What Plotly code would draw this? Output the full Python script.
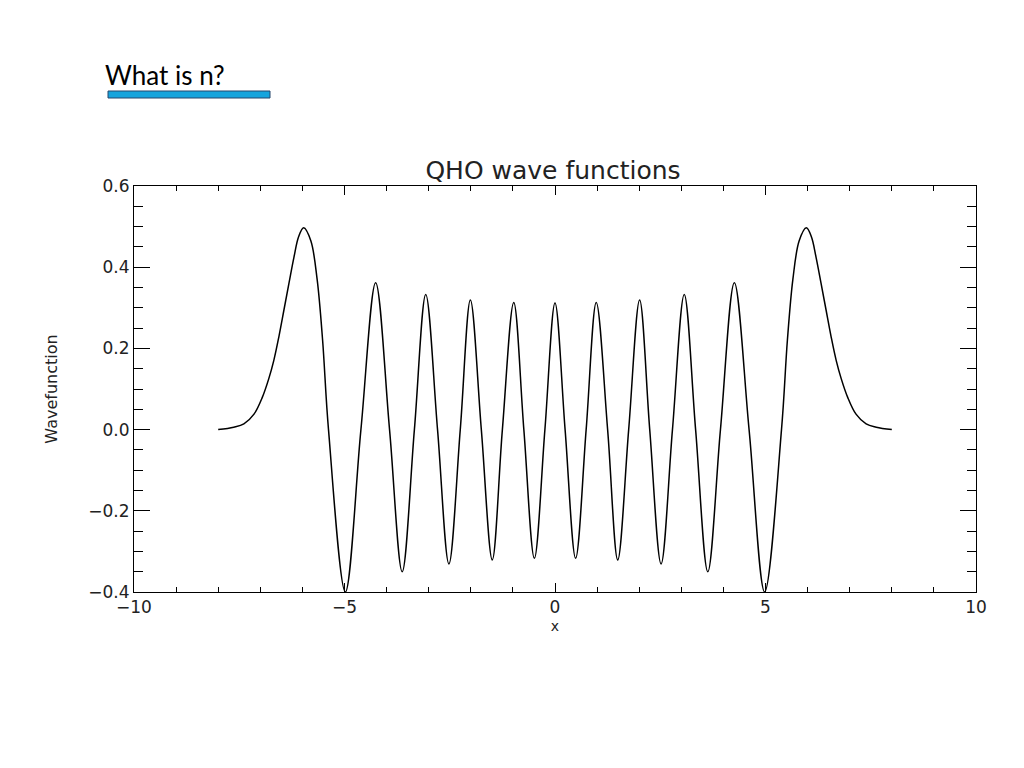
import plotly.graph_objects as go

# Curve points (tail points, extrema, zero crossings)
x_vals = [-8.0, -7.63, -7.39, -7.15, -6.95, -6.8, -6.68, -6.56, -6.44, -6.32, -6.2, -6.09, -5.97,
          -5.8, -5.65, -5.52, -5.38,
          -4.98, -4.61, -4.26, -3.93, -3.63, -3.34, -3.07, -2.79, -2.52, -2.25,
          -2.01, -1.75, -1.49, -1.25, -0.98, -0.74, -0.49, -0.24, 0.0,
          0.24, 0.49, 0.74, 0.98, 1.25, 1.49, 1.75, 2.01, 2.25, 2.52, 2.79,
          3.07, 3.34, 3.63, 3.93, 4.26, 4.61, 4.98,
          5.38, 5.52, 5.65, 5.8,
          5.97, 6.09, 6.2, 6.32, 6.44, 6.56, 6.68, 6.8, 6.95, 7.15, 7.39, 7.63, 8.0]
y_vals = [0.0, 0.006, 0.014, 0.038, 0.08, 0.125, 0.17, 0.228, 0.294, 0.36, 0.425, 0.475, 0.497,
          0.465, 0.37, 0.22, 0.0,
          -0.40, 0.0, 0.362, 0.0, -0.350, 0.0, 0.333, 0.0, -0.331, 0.0,
          0.319, 0.0, -0.321, 0.0, 0.313, 0.0, -0.317, 0.0, 0.312,
          0.0, -0.317, 0.0, 0.313, 0.0, -0.321, 0.0, 0.319, 0.0, -0.331, 0.0,
          0.333, 0.0, -0.350, 0.0, 0.362, 0.0, -0.40,
          0.0, 0.22, 0.37, 0.465,
          0.497, 0.475, 0.425, 0.36, 0.294, 0.228, 0.17, 0.125, 0.08, 0.038, 0.014, 0.006, 0.0]

x_ticks = [-10, -5, 0, 5, 10]
y_ticks = [-0.4, -0.2, 0.0, 0.2, 0.4, 0.6]

title_text = "QHO wave functions"
x_title = "x"
y_title = "Wavefunction"
heading = "What is n?"

OFF = 8  # page body margin
W, H = 1024, 768
L = 134 - OFF
T = 186 - OFF
R = W - (976 - OFF)
B = H - (592 - OFF)
pw, ph = W - L - R, H - T - B

def px_x(p):
    return (p - OFF - L) / pw

def px_y(p):
    return (H - B - (p - OFF)) / ph

tick_font = dict(family="DejaVu Sans", size=17, color="#222")

fig = go.Figure()
fig.add_trace(go.Scatter(x=x_vals, y=y_vals, mode="lines",
                         line=dict(color="black", width=1.5, shape="spline", smoothing=1.0),
                         showlegend=False, hoverinfo="skip"))

fig.update_layout(
    width=W, height=H,
    margin=dict(l=L, r=R, t=T, b=B),
    paper_bgcolor="white", plot_bgcolor="white",
    title=dict(text=title_text, x=(553 - OFF) / W, xanchor="center", y=1 - (170 - OFF) / H,
               yanchor="middle", font=dict(family="DejaVu Sans", size=25, color="#222")),
    xaxis=dict(range=[-10, 10], tickvals=x_ticks, ticks="inside", ticklen=9, tickwidth=1,
               tickcolor="black", showline=True, linecolor="black", linewidth=1, mirror="ticks",
               showgrid=False, zeroline=False, tickfont=tick_font,
               minor=dict(dtick=1, ticks="inside", ticklen=5, tickcolor="black", showgrid=False),
               title=dict(text=x_title, font=dict(family="DejaVu Sans", size=14, color="#222"), standoff=4)),
    yaxis=dict(range=[-0.4, 0.6], tickvals=y_ticks, tickformat=".1f", ticks="inside", ticklen=16,
               tickwidth=1, tickcolor="black", showline=True, linecolor="black", linewidth=1,
               mirror="ticks", showgrid=False, zeroline=False, tickfont=tick_font,
               minor=dict(dtick=0.05, ticks="inside", ticklen=9, tickcolor="black", showgrid=False),
               title=dict(text=y_title, font=dict(family="DejaVu Sans", size=16, color="#222"), standoff=26)),
)

fig.add_shape(type="rect", xref="paper", yref="paper",
              x0=px_x(108), x1=px_x(270), y0=px_y(98), y1=px_y(91),
              fillcolor="#16a4dd", line=dict(color="#26476c", width=1))
fig.add_annotation(text=heading, xref="paper", yref="paper", x=px_x(103), y=px_y(75),
                   xanchor="left", yanchor="middle", showarrow=False,
                   font=dict(family="Lato", size=26, color="black"))

fig.write_html("out.html")
